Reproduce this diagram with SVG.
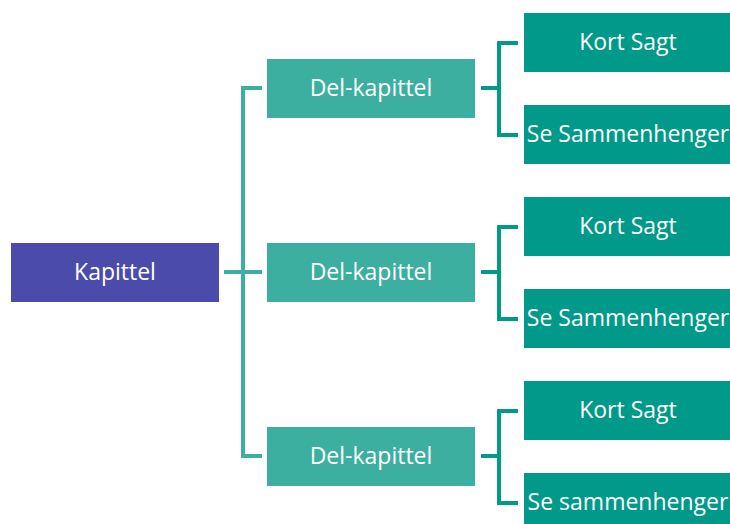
<svg xmlns="http://www.w3.org/2000/svg" width="730" height="524" viewBox="0 0 730 524">
<style>
.t{font-family:"Open Sans","Liberation Sans",sans-serif;font-size:23px;fill:#fff;text-anchor:middle;dominant-baseline:central}
.main{fill:#4B4BAB}
.del{fill:#3DAFA0}
.leaf{fill:#00998A}
.c1{stroke:#3DAFA0;stroke-width:4;fill:none}
.c2{stroke:#00998A;stroke-width:4;fill:none}
</style>
<rect width="730" height="524" fill="#fff"/>
<g id="connectors">
<path class="c1" d="M224 272H262M262 88H243V456H262"/>
<path class="c2" d="M481 88H499M518 43H499V135H518"/>
<path class="c2" d="M481 272H499M518 227H499V319H518"/>
<path class="c2" d="M481 456H499M518 411H499V503H518"/>
</g>
<g id="kapittel"><rect class="main" x="11" y="243" width="208" height="59"/><text class="t" x="115" y="271">Kapittel</text></g>
<g id="del1"><rect class="del" x="267" y="59" width="208" height="59"/><text class="t" x="371" y="87">Del-kapittel</text></g>
<g id="del2"><rect class="del" x="267" y="243" width="208" height="59"/><text class="t" x="371" y="271">Del-kapittel</text></g>
<g id="del3"><rect class="del" x="267" y="427" width="208" height="59"/><text class="t" x="371" y="455">Del-kapittel</text></g>
<g id="kort1"><rect class="leaf" x="524" y="13" width="206" height="59"/><text class="t" x="628" y="41">Kort Sagt</text></g>
<g id="se1"><rect class="leaf" x="524" y="105" width="206" height="59"/><text class="t" x="628" y="133">Se Sammenhenger</text></g>
<g id="kort2"><rect class="leaf" x="524" y="197" width="206" height="59"/><text class="t" x="628" y="225">Kort Sagt</text></g>
<g id="se2"><rect class="leaf" x="524" y="289" width="206" height="59"/><text class="t" x="628" y="317">Se Sammenhenger</text></g>
<g id="kort3"><rect class="leaf" x="524" y="381" width="206" height="59"/><text class="t" x="628" y="409">Kort Sagt</text></g>
<g id="se3"><rect class="leaf" x="524" y="473" width="206" height="59"/><text class="t" x="628" y="501">Se sammenhenger</text></g>
</svg>
